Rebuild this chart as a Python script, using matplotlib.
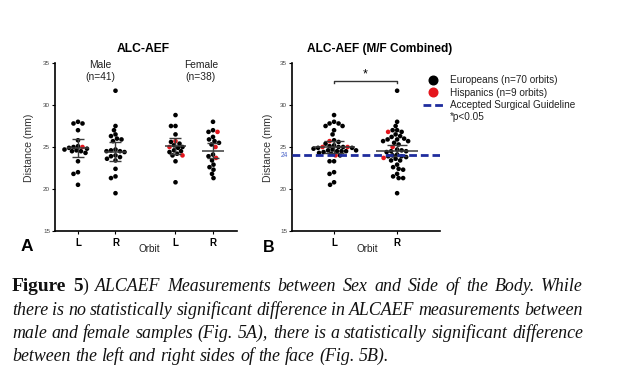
import numpy as np
import matplotlib
matplotlib.use('Agg')
import matplotlib.pyplot as plt
from matplotlib.lines import Line2D

plt.rcParams['font.family'] = ['Liberation Sans', 'DejaVu Sans']

W, H = 619, 375

# ALC-AEF distances (mm)
male_L_eur = [28.0, 27.8, 27.8, 27.0, 25.8, 25.1, 25.0, 24.9, 24.8, 24.7, 24.6,
              24.5, 24.5, 24.3, 23.3, 22.0, 21.8, 20.5]
male_L_his = [25.0]
male_R_eur = [31.7, 27.5, 27.0, 26.5, 26.3, 26.0, 25.9, 25.7, 24.7, 24.6, 24.5,
              24.5, 24.4, 24.0, 23.9, 23.8, 23.6, 23.4, 22.4, 21.5, 21.3, 19.5]
male_R_his = []
female_L_eur = [28.8, 27.5, 27.5, 26.5, 25.6, 25.4, 25.2, 25.0, 24.9, 24.6, 24.5,
                24.4, 24.2, 24.0, 23.3, 20.8]
female_L_his = [25.7, 25.0, 24.0]
female_R_eur = [28.0, 27.0, 26.8, 26.2, 25.9, 25.7, 25.5, 25.3, 24.1, 23.9, 23.4,
                22.9, 22.6, 22.3, 21.8, 21.3]
female_R_his = [26.8, 25.0, 23.7]

# mean and error bar half-widths as drawn
means_A = [24.85, 24.45, 25.1, 24.55]
errs_A = [1.05, 1.1, 0.95, 0.9]
means_B = [24.95, 24.55]
errs_B = [0.72, 0.63]

guideline = 24
tick_labels_A = ['L', 'R', 'L', 'R']
tick_labels_B = ['L', 'R']
legend_labels = ['Europeans (n=70 orbits)', 'Hispanics (n=9 orbits)',
                 'Accepted Surgical Guideline', '*p<0.05']

RED = '#e5161d'
BLUE = '#1f2d9e'
Y_SCALE = 8.4  # px per mm on the y axis


def fx(px):
    return px / W


def fy(py):
    return 1 - py / H


def swarm_offsets(values, x_scale, d=4.4):
    vals = np.asarray(values, dtype=float)
    ypx = vals * Y_SCALE
    order = np.argsort(-vals)
    cand = sorted(np.arange(-40, 40.01, 0.5), key=lambda c: (abs(c), c))
    placed = []
    offs = np.zeros(len(vals))
    for i in order:
        for c in cand:
            if all((c - px) ** 2 + (ypx[i] - py) ** 2 >= d * d for px, py in placed):
                break
        offs[i] = c
        placed.append((c, ypx[i]))
    return offs / x_scale


def draw_group(ax, x, eur, his, x_scale, mean, err, mean_hw, cap_hw):
    vals = list(eur) + list(his)
    cols = ['black'] * len(eur) + [RED] * len(his)
    offs = swarm_offsets(vals, x_scale)
    ax.scatter(x + offs, vals, s=11, c=cols, linewidths=0, zorder=2)
    ax.hlines(mean, x - mean_hw, x + mean_hw, color='#3a3a3a', lw=1.1, zorder=3)
    ax.vlines(x, mean - err, mean + err, color='#3a3a3a', lw=1.0, zorder=3)
    ax.hlines([mean - err, mean + err], x - cap_hw, x + cap_hw,
              color='#3a3a3a', lw=1.0, zorder=3)


def style_axes(ax, xlim, pos, labels):
    ax.set_xlim(*xlim)
    ax.set_ylim(15, 35)
    for s in ['top', 'right']:
        ax.spines[s].set_visible(False)
    for s in ['left', 'bottom']:
        ax.spines[s].set_linewidth(1.2)
    ax.set_yticks([15, 20, 25, 30, 35])
    ax.tick_params(axis='y', labelsize=4.5, length=2.5, width=0.8, pad=1,
                   labelcolor='#444')
    ax.set_xticks(pos, labels)
    ax.tick_params(axis='x', labelsize=7, length=2.5, width=0.8, pad=2.5)
    for t in ax.get_xticklabels():
        t.set_fontweight('bold')
    ax.set_xlabel('Orbit', fontsize=7.2, color='#222')
    ax.set_ylabel('Distance (mm)', fontsize=7.6, color='#333')


fig = plt.figure(figsize=(W / 100, H / 100), dpi=100)

# ---- panel A
axA = fig.add_axes([fx(55), fy(231), (237 - 55) / W, 168 / H])
posA = [1, 2, 3.6, 4.6]
style_axes(axA, (0.387, 5.24), posA, tick_labels_A)
groupsA = [(male_L_eur, male_L_his), (male_R_eur, male_R_his),
           (female_L_eur, female_L_his), (female_R_eur, female_R_his)]
for x, (eur, his), m, e in zip(posA, groupsA, means_A, errs_A):
    draw_group(axA, x, eur, his, 37.5, m, e, 0.29, 0.16)
axA.xaxis.set_label_coords((149 - 55) / 182, (231 - 249) / 168)
axA.xaxis.label.set_va('center')
axA.yaxis.set_label_coords((29 - 55) / 182, (231 - 148) / 168)
axA.yaxis.label.set_va('center')

fig.text(fx(100), fy(70.5), 'Male\n(n=41)', ha='center', va='center',
         fontsize=7.4, linespacing=1.25, color='#222')
fig.text(fx(201), fy(70.5), 'Female\n(n=38)', ha='center', va='center',
         fontsize=7.4, linespacing=1.25, color='#222')
fig.text(fx(143), fy(49), 'ALC-AEF', ha='center', va='center',
         fontsize=8.7, fontweight='bold')
fig.text(fx(27), fy(247), 'A', ha='center', va='center', fontsize=12.5,
         fontweight='bold')

# ---- panel B
axB = fig.add_axes([fx(292), fy(231), (440 - 292) / W, 168 / H])
posB = [1, 2]
style_axes(axB, (0.333, 2.68), posB, tick_labels_B)
combined = [(male_L_eur + female_L_eur, male_L_his + female_L_his),
            (male_R_eur + female_R_eur, male_R_his + female_R_his)]
for x, (eur, his), m, e in zip(posB, combined, means_B, errs_B):
    draw_group(axB, x, eur, his, 63.0, m, e, 0.33, 0.16)
axB.axhline(guideline, color=BLUE, lw=2.0, ls=(0, (2.8, 1.4)), zorder=4)
axB.annotate(str(guideline), xy=(0, guideline),
             xycoords=('axes fraction', 'data'), xytext=(-2.5, 0),
             textcoords='offset points', ha='right', va='center',
             fontsize=4.8, color='#4a64c8')
axB.xaxis.set_label_coords((367 - 292) / 148, (231 - 249) / 168)
axB.xaxis.label.set_va('center')
axB.yaxis.set_label_coords((268 - 292) / 148, (231 - 148) / 168)
axB.yaxis.label.set_va('center')

# significance bracket
axB.plot([posB[0], posB[0], posB[1], posB[1]], [32.6, 32.9, 32.9, 32.6],
         color='#333', lw=1.0, clip_on=False)
axB.text(np.mean(posB), 33.6, '*', ha='center', va='center', fontsize=9)

fig.text(fx(380), fy(49), 'ALC-AEF (M/F Combined)', ha='center', va='center',
         fontsize=8.6, fontweight='bold')
fig.text(fx(269), fy(248), 'B', ha='center', va='center', fontsize=11.5,
         fontweight='bold')

handles = [Line2D([], [], ls='none', marker='o', ms=6.2, color='black'),
           Line2D([], [], ls='none', marker='o', ms=6.2, color=RED),
           Line2D([], [], color=BLUE, lw=2.0, ls=(0, (2.8, 1.4))),
           Line2D([], [], ls='none')]
fig.legend(handles, legend_labels, loc='upper left',
           bbox_to_anchor=(fx(423), fy(75)), frameon=False, fontsize=7.2,
           handlelength=2.0, handletextpad=0.7, labelspacing=0.25,
           borderpad=0, borderaxespad=0, labelcolor='#222')

# ---- caption (justified lines)
renderer = fig.canvas.get_renderer()
SERIF = 'Liberation Serif'


def text_width(s, size, **kw):
    t = fig.text(0, 0, s, fontsize=size, family=SERIF, **kw)
    w = t.get_window_extent(renderer).width
    t.remove()
    return w


ital = dict(style='italic')
cap_lines = [
    'Figure 5) ALCAEF Measurements between Sex and Side of the Body. While',
    'there is no statistically significant difference in ALCAEF measurements between',
    'male and female samples (Fig. 5A), there is a statistically significant difference',
    'between the left and right sides of the face (Fig. 5B).',
]
x_left, x_right = 12, 583
targets = [x_right - x_left] * 3 + [370]
base = 12.0
fits = [base * t / text_width(l, base, **ital) for l, t in zip(cap_lines, targets)]
size = float(np.median(fits))
bold_size = size * 1.08

baselines = [291, 315, 338, 361]

for li, line in enumerate(cap_lines):
    if li == 0:
        rest = line.split(' ')[2:]
        words = [[('Figure', bold_size, dict(weight='bold'))],
                 [('5', bold_size, dict(weight='bold')), (')', size, {})]]
        words += [[(w, size, ital)] for w in rest]
    else:
        words = [[(w, size, ital)] for w in line.split(' ')]
    widths = [sum(text_width(s, z, **kw) for s, z, kw in wd) for wd in words]
    if li < 3:
        gap = (x_right - x_left - sum(widths)) / (len(words) - 1)
    else:
        gap = text_width('a b', size, **ital) - text_width('ab', size, **ital)
    x = x_left
    for wd, wdw in zip(words, widths):
        xx = x
        for s, z, kw in wd:
            fig.text(fx(xx), fy(baselines[li]), s, fontsize=z, family=SERIF,
                     ha='left', va='baseline', color='#111', **kw)
            xx += text_width(s, z, **kw)
        x += wdw + gap

fig.savefig('out.png', dpi=100)
